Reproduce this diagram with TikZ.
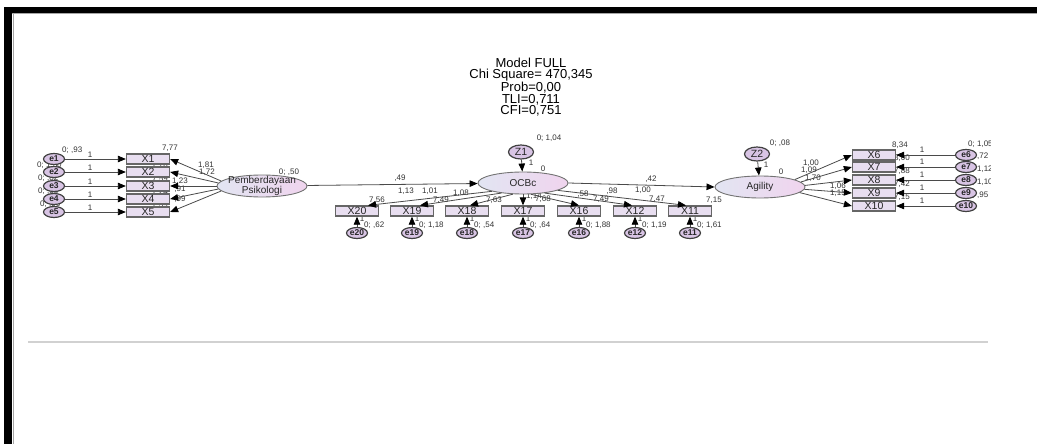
\documentclass[tikz,border=0pt]{standalone}
\usepackage{fontspec}
\setmainfont{Liberation Sans}
\usetikzlibrary{arrows.meta,shapes.geometric}
\definecolor{boxfill}{HTML}{E8DEF0}
\definecolor{boxline}{HTML}{666666}
\definecolor{latL}{HTML}{E2E5F2}
\definecolor{latR}{HTML}{F0D4EE}
\definecolor{errfill}{HTML}{D8C4E4}
\definecolor{errline}{HTML}{404040}
\definecolor{arrline}{HTML}{4A4A4A}
\definecolor{labtxt}{HTML}{333333}
\begin{document}
\begin{tikzpicture}[x=1pt,y=-1pt,
  obs/.style={draw=boxline, line width=1.3pt, fill=boxfill, minimum width=43pt, minimum height=10pt, inner sep=0pt, font=\fontsize{10.5}{10}\selectfont, text=black!85},
  err/.style={ellipse, draw=errline, line width=1.2pt, fill=errfill, minimum width=21pt, minimum height=11pt, inner sep=0pt, font=\fontsize{8.5}{8.5}\selectfont\bfseries, text=black!85},
  dist/.style={ellipse, draw=errline, line width=1.2pt, fill=errfill, minimum width=25pt, minimum height=14pt, inner sep=0pt, font=\fontsize{10.5}{10}\selectfont, text=black!85},
  lat/.style={ellipse, draw=black!55, line width=0.9pt, left color=latL, right color=latR, minimum width=90pt, minimum height=22pt, inner sep=0pt},
  lattxt/.style={align=center, inner sep=0pt, font=\fontsize{10}{9.5}\selectfont, text=black!85},
  lab/.style={inner sep=0pt, font=\fontsize{8}{8}\selectfont, text=labtxt},
  arr/.style={draw=arrline, line width=0.8pt, -{Triangle[length=8pt,width=6.5pt,color=black]}}
]
\useasboundingbox (0,0) rectangle (1037,444);
\fill[white] (0,0) rectangle (1037,444);
% frame
\fill[black] (4,7) rectangle (1037,13);
\fill[black] (4,7) rectangle (12,444);
\draw[black!35, line width=1pt] (12,14) -- (1037,14);
\draw[black!35, line width=1pt] (13,14) -- (13,444);
\draw[black!18, line width=2pt] (28,342) -- (988,342);

\begin{scope}
\clip (0,0) rectangle (990,444);
% title
\node[align=center, inner sep=0pt, font=\fontsize{13}{11.2}\selectfont] (title) at (531,87) {Model FULL\\Chi Square= 470,345\\Prob=0,00\\TLI=0,711\\CFI=0,751};

% ---------- labels (drawn first, partly covered) ----------
\node[lab, anchor=west] (v1) at (62,150) {0; ,93};
\node[lab, anchor=west] (v2) at (37,165) {0; 1,30};
\node[lab, anchor=west] (v3) at (38,178) {0; ,82};
\node[lab, anchor=west] (v4) at (38,191) {0; ,58};
\node[lab, anchor=west] (v5) at (40,204) {0; ,96};
\foreach \y [count=\i] in {159,172,186,199,212} {
  \node[lab] (one\i) at (90,\y-4) {1};
}
\node[lab, anchor=west] (i1) at (162,148) {7,77};
\node[lab, anchor=west] (i2) at (152,165) {7,70};
\node[lab, anchor=west] (i3) at (152,179) {7,59};
\node[lab, anchor=west] (i4) at (152,192) {7,24};
\node[lab, anchor=west] (i5) at (152,205) {7,39};
\node[lab] (l1) at (206,165) {1,81};
\node[lab] (l2) at (207,172) {1,72};
\node[lab] (l3) at (180,181) {1,23};
\node[lab] (l4) at (180,189) {,91};
\node[lab] (l5) at (180,199) {,99};
\node[lab] (vPP) at (289,172) {0; ,50};
\node[lab] (p49) at (400,178) {,49};
\node[lab] (vZ1) at (549,138) {0; 1,04};
\node[lab] (z1one) at (531,163) {1};
\node[lab] (z1zero) at (543,169) {0};
\node[lab] (p42) at (651,179) {,42};
\node[lab] (vZ2) at (780,143) {0; ,08};
\node[lab] (z2one) at (766,165) {1};
\node[lab] (z2zero) at (781,172) {0};
\node[lab] (m20) at (406,191) {1,13};
\node[lab] (m19) at (430,191) {1,01};
\node[lab] (m18) at (461,193) {1,08};
\node[lab] (m17) at (534,196) {1,14};
\node[lab] (m16) at (583,194) {,58};
\node[lab] (m12) at (612,191) {,98};
\node[lab] (m11) at (643,190) {1,00};
\node[lab] (t20) at (377,200) {7,56};
\node[lab] (t19) at (441,200) {7,49};
\node[lab] (t18) at (494,200) {7,63};
\node[lab] (t17) at (543,199) {7,68};
\node[lab] (t16) at (601,199) {7,49};
\node[lab] (t12) at (657,199) {7,47};
\node[lab] (t11) at (714,200) {7,15};
\foreach \x/\v [count=\k] in {357/{0; ,62},412/{0; 1,18},467/{0; ,54},523/{0; ,64},579/{0; 1,88},635/{0; 1,19},690/{0; 1,61}} {
  \node[lab, anchor=west] (bv\k) at (\x+7,225) {\v};
  \node[lab] (bo\k) at (\x+5,219) {1};
}
\node[lab] (a6) at (811,163) {1,00};
\node[lab] (a7) at (809,170) {1,09};
\node[lab] (a8) at (813,178) {1,70};
\node[lab] (a9) at (838,186) {1,06};
\node[lab] (a10) at (838,193) {1,15};
\node[lab] (r6) at (900,145) {8,34};
\node[lab] (r7) at (902,158) {8,00};
\node[lab] (r8) at (902,171) {7,88};
\node[lab] (r9) at (902,184) {7,42};
\node[lab] (r10) at (902,197) {7,15};
\foreach \y/\v [count=\k] in {155/{0; 1,05},167/{0; ,72},180/{0; 1,12},193/{0; 1,10},206/{0; ,95}} {
  \node[lab, anchor=west] (rv\k) at (968,\y-11) {\v};
  \node[lab] (ro\k) at (922,\y-5) {1};
}

% ---------- nodes ----------
\foreach \i/\y in {1/159,2/172,3/186,4/199,5/212} {
  \node[obs] (X\i) at (148,\y) {X\i};
  \node[err] (e\i) at (54,\y) {e\i};
}
\node[lat] (PP) at (262,186) {};
\node[lattxt] (PPt) at (PP) {Pemberdayaan\\Psikologi};
\node[lat] (OCB) at (523,183) {};
\node[lattxt] (OCBt) at (OCB) {OCBc};
\node[dist] (Z1) at (521,152) {Z1};
\node[lat] (AGI) at (760,187) {};
\node[lattxt] (AGIt) at (AGI) {Agility};
\node[dist] (Z2) at (757,154) {Z2};
\foreach \n/\x in {20/357,19/412,18/467,17/523,16/579,12/635,11/690} {
  \node[obs] (X\n) at (\x,211) {X\n};
  \node[err] (e\n) at (\x,233) {e\n};
}
\foreach \i/\y in {6/155,7/167,8/180,9/193,10/206} {
  \node[obs] (X\i) at (874,\y) {X\i};
  \node[err] (e\i) at (966,\y) {e\i};
}

% ---------- connectors ----------
\foreach \i in {1,...,5} { \draw[arr] (e\i) -- (X\i); }
\foreach \i/\a in {1/173,2/176,3/180,4/184,5/187} { \draw[arr] (PP.\a) -- (X\i.east); }
\draw[arr] (PP) -- (OCB);
\draw[arr] (Z1) -- (OCB);
\draw[arr] (OCB.195) -- ([xshift=11pt]X20.north);
\draw[arr] (OCB.205) -- ([xshift=8pt]X19.north);
\draw[arr] (OCB.228) -- ([xshift=3pt]X18.north);
\draw[arr] (OCB.270) -- (X17.north);
\draw[arr] (OCB.305) -- (X16.north);
\draw[arr] (OCB.335) -- ([xshift=-3pt]X12.north);
\draw[arr] (OCB.348) -- ([xshift=-4pt]X11.north);
\foreach \n in {20,19,18,17,16,12,11} { \draw[arr] (e\n) -- (X\n); }
\draw[arr] (OCB.east) -- (AGI.west);
\draw[arr] (Z2) -- (AGI);
\foreach \i/\a in {6/12,7/7,8/2,9/-3,10/-8} { \draw[arr] (AGI.\a) -- (X\i.west); }
\foreach \i in {6,...,10} { \draw[arr] (e\i) -- (X\i); }
\end{scope}
\end{tikzpicture}
\end{document}
